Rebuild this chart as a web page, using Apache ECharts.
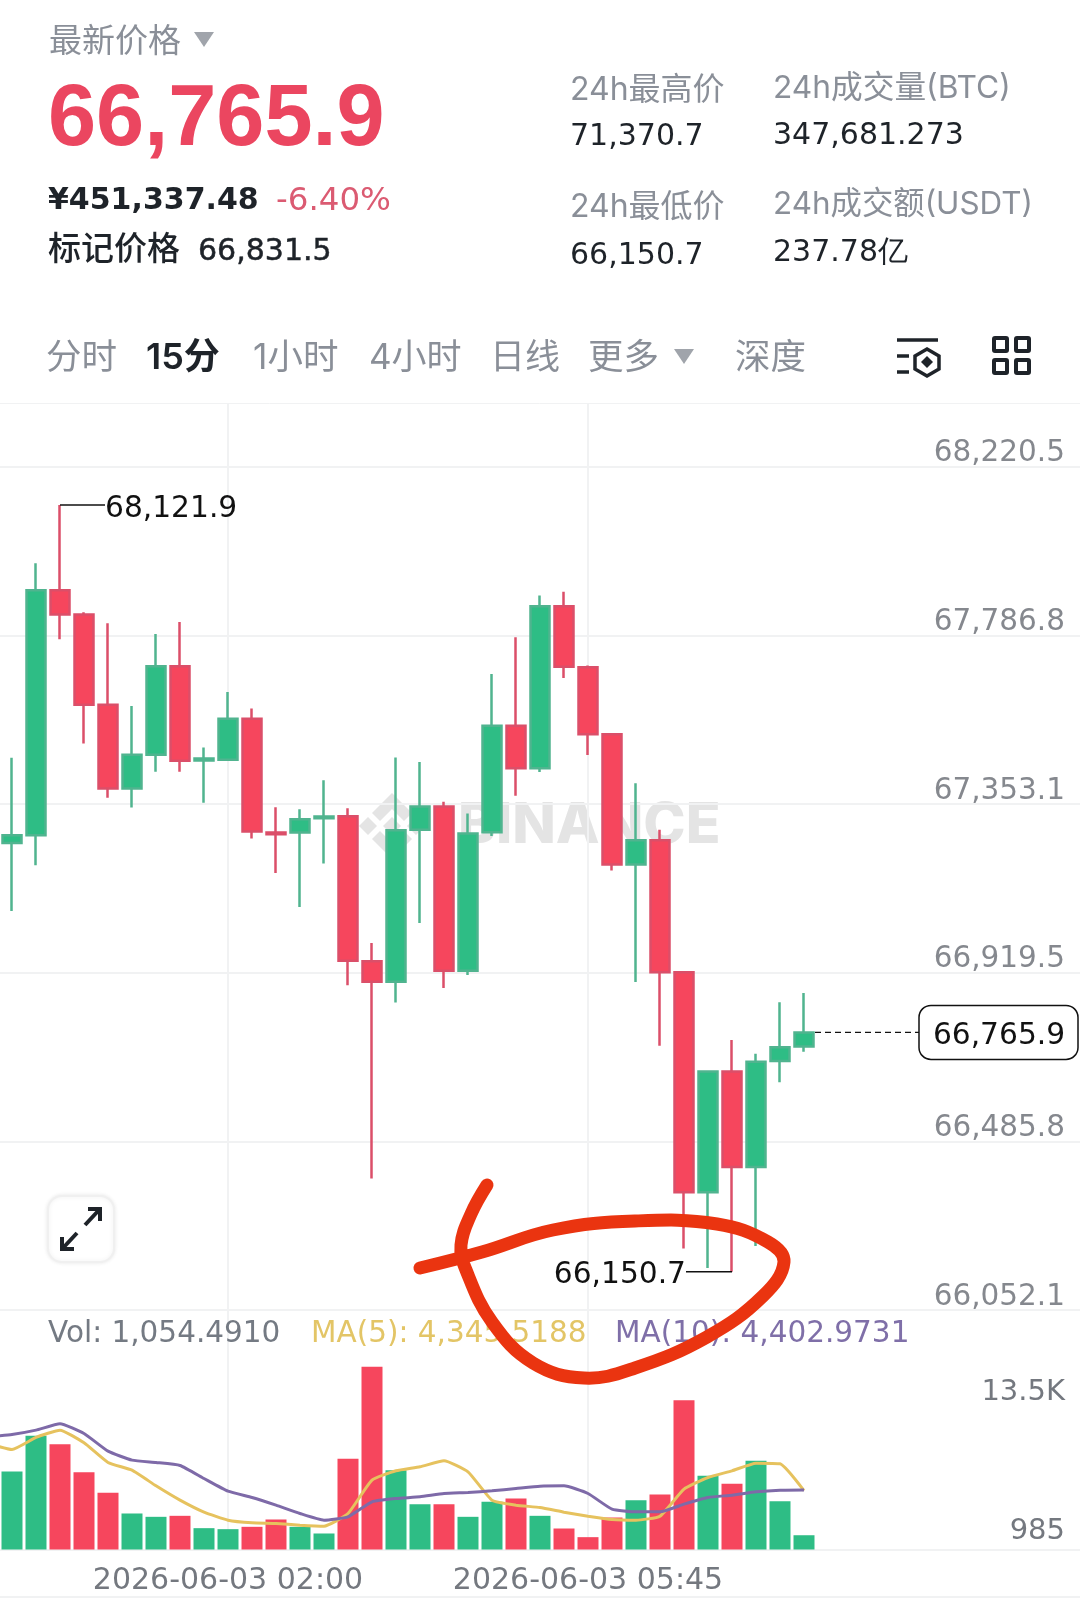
<!DOCTYPE html>
<html><head><meta charset="utf-8">
<style>html,body{margin:0;padding:0;background:#fff}#c{width:1080px;height:1607px}</style>
<script src="https://cdn.jsdelivr.net/npm/echarts@6/dist/echarts.min.js"></script>
</head><body><div id="c"></div>
<script>
const categories=['06-02 23:30','06-02 23:45','06-03 00:00','06-03 00:15','06-03 00:30','06-03 00:45','06-03 01:00','06-03 01:15','06-03 01:30','06-03 01:45','06-03 02:00','06-03 02:15','06-03 02:30','06-03 02:45','06-03 03:00','06-03 03:15','06-03 03:30','06-03 03:45','06-03 04:00','06-03 04:15','06-03 04:30','06-03 04:45','06-03 05:00','06-03 05:15','06-03 05:30','06-03 05:45','06-03 06:00','06-03 06:15','06-03 06:30','06-03 06:45','06-03 07:00','06-03 07:15','06-03 07:30','06-03 07:45','06-03 08:00','06-03 08:15','06-03 08:30','06-03 08:45','06-03 09:00','06-03 09:15','06-03 09:30','06-03 09:45','06-03 10:00','06-03 10:15','06-03 10:30','06-03 10:45'];
const timeLabels=['06-03 02:00','06-03 05:45'];
const opens=[67253.1,67272.9,67902.6,67840,67608.3,67393,67479.6,67707,67465,67466.8,67572.3,67279.8,67279.8,67316.6,67321.8,66948.5,66896.2,67286.6,67346.6,66924.5,67280.6,67554.3,67445.3,67861.6,67704.5,67532.6,67197.3,67259.6,66920.6,66354.8,66665.1,66419.6,66692.5,66729.9];
const closes=[67272.9,67902.6,67840,67608.3,67393,67479.6,67707,67464.2,67470.2,67572.3,67282.3,67275.4,67314,67320.9,66950.2,66896.2,67285.8,67346.6,66924.5,67277.1,67554.3,67445.3,67861.6,67705.8,67532.6,67197.3,67259.6,66920.6,66354.8,66665.1,66419.6,66690.1,66727.4,66765.9];
const lows=[67078.1,67195.6,67776.5,67508.8,67369,67344.1,67435.9,67435.9,67356.1,67466,67264.3,67175.9,67088.4,67199.9,66886.8,66390,66843,67047.2,66879.9,66913.4,67271.1,67374.1,67435.3,67677.1,67479,67182.3,66895.7,66731.2,66210.2,66160.4,66150.7,66216.5,66637.7,66716.2];
const highs=[67471.9,67972.1,68121.9,67846,67817.7,67604.9,67790.2,67821.1,67498.5,67640.9,67598.9,67344.9,67339.8,67414.4,67342.4,66995.7,67472.8,67460.8,67358.7,67328.6,67687.3,67781.7,67889,67899,67709.5,67534,67406.7,67287,66920.6,66665.1,66746.1,66711.2,66843.3,66867];
const volumes=[5766,8402,7786,5716,4189,2661,2415,2489,1577,1503,1676,2218,1676,1183,6702,13500,5864,3351,3351,2415,3524,3770,2489,1552,912,2365,3647,4066,11039,5445,4854,6554,3573,1054.49];
const ma5=[7836,7392,8279,8821,7885,6431,5864,4706,3647,2760,2168,1971,1922,1799,1725,2661,5125,5815,6111,6554,5741,3647,3277,3105,2760,2464,2218,2168,2464,4460,5322,5815,6382,6332,4345.52];
const ma10=[8328,8501,8821,9289,8575,7269,6604,6431,6209,5248,4312,3844,3277,2661,2168,2415,3524,3770,3893,4140,4213,4337,4509,4682,4706,4140,2981,2784,2784,3351,3844,4016,4263,4386,4402.97];
const priceTicks=[66052.1,66485.8,66919.5,67353.1,67786.8,68220.5];
const volumeTicks=[985,13500];
const highMark=[3,68121.9], lowMark=[31,66150.7], lastMark=[34,66765.9];

const GREEN='#2EBD85',RED='#F6465D',GREY='#8A8F98',LINE='#F1F2F3',INK='#1E2329';
const DIGIT="'DejaVu Sans',sans-serif", LATIN="Inter,'Noto Sans CJK SC',sans-serif", CJK="'Noto Sans CJK SC',Inter,sans-serif";
const fmt=v=>v.toLocaleString('en-US',{minimumFractionDigits:1,maximumFractionDigits:1});
const fmtVol=v=>v>=1000?(v/1000)+'K':String(v);
const isUp=i=>closes[i]>=opens[i];
const candleData=[['-','-','-','-']].concat(opens.map((o,i)=>[o,closes[i],lows[i],highs[i]]));
const volData=[{value:'-'}].concat(volumes.map((v,i)=>({value:v,itemStyle:{color:isUp(i)?GREEN:RED}})));

const chart=echarts.init(document.getElementById('c'),null,{width:1080,height:1607});
const T=(text,x,y,font,fill,extra)=>({type:'text',z:50,silent:true,style:Object.assign({text,x,y,fill,font,verticalAlign:'middle'},extra||{})});
const tri=(x,y,s,c)=>({type:'polygon',z:50,silent:true,shape:{points:[[x-s,y-s*.7],[x+s,y-s*.7],[x,y+s*.8]]},style:{fill:c}});
const iconRect=(x,y)=>({type:'rect',z:50,shape:{x,y,width:13,height:13,r:1},style:{fill:'none',stroke:INK,lineWidth:4}});
const iconLine=(x1,y1,x2,y2)=>({type:'line',z:50,shape:{x1,y1,x2,y2},style:{stroke:INK,lineWidth:3.5}});
const wm=pts=>({type:'polygon',z:0,silent:true,shape:{points:pts.map(p=>[392+p[0],826+p[1]])},style:{fill:'#E4E4E4'}});
const arrow=pts=>({type:'polyline',z:51,silent:true,shape:{points:pts},style:{stroke:INK,fill:'none',lineWidth:4}});
const medium={stroke:INK,lineWidth:0.5};
const graphics=[
 T('最新价格',49,39,`33px ${CJK}`,GREY),
 tri(204,39,10,'#A0A4AB'),
 T('66,765.9',48,121,`700 86.5px 'Liberation Sans',sans-serif`,'#EB4660'),
 T('¥451,337.48',48,201,`700 30px ${DIGIT}`,INK),
 T('-6.40%',276,202,`32.5px ${DIGIT}`,'#DB5B72'),
 T('标记价格',48,247,`500 33px ${CJK}`,INK),
 T('66,831.5',198,252,`30px ${DIGIT}`,INK,medium),
 T('24h最高价',570,90,`32px ${LATIN}`,GREY),T('71,370.7',570,137,`30px ${DIGIT}`,INK),
 T('24h成交量(BTC)',773,88,`31.7px ${LATIN}`,GREY),T('347,681.273',773,136,`30px ${DIGIT}`,INK),
 T('24h最低价',570,207,`32px ${LATIN}`,GREY),T('66,150.7',570,256,`30px ${DIGIT}`,INK),
 T('24h成交额(USDT)',773,205,`31.4px ${LATIN}`,GREY),T('237.78亿',773,253,`30px ${DIGIT}`,INK),
 T('分时',46,358,`35.5px ${LATIN}`,GREY),T('15分',146,358,`600 36px ${LATIN}`,INK),
 T('1小时',253,358,`35.5px ${LATIN}`,GREY),T('4小时',369,358,`35px ${LATIN}`,GREY),T('日线',490,358,`35px ${LATIN}`,GREY),T('更多',588,358,`35.5px ${LATIN}`,GREY),
 tri(684,356,10,'#A0A4AB'),T('深度',735,358,`35.5px ${LATIN}`,GREY),
 {type:'group',z:50,silent:true,children:[
  iconRect(994,338),iconRect(1016,338),iconRect(994,360),iconRect(1016,360),
  iconLine(897,340,938,340),iconLine(897,356,909,356),iconLine(897,372,909,372),
  {type:'polygon',z:50,shape:{points:[[927,349],[939,356],[939,369],[927,376],[915,369],[915,356]]},style:{fill:'none',stroke:INK,lineWidth:3.5}},
  {type:'polygon',z:50,shape:{points:[[927,356],[933,362],[927,368],[921,362]]},style:{fill:INK}}
 ]},
 // watermark
 {type:'text',z:0,silent:true,style:{text:'BINANCE',x:458,y:826,fill:'#E4E4E4',font:`800 57px ${LATIN}`,verticalAlign:'middle'}},
 wm([[0,-33],[20,-13],[12,-5],[0,-17],[-12,-5],[-20,-13]]),
 wm([[0,33],[20,13],[12,5],[0,17],[-12,5],[-20,13]]),
 wm([[0,-9],[9,0],[0,9],[-9,0]]),wm([[-33,0],[-24,-9],[-15,0],[-24,9]]),wm([[33,0],[24,-9],[15,0],[24,9]]),
 // expand button
 {type:'rect',z:50,silent:true,shape:{x:48,y:1196,width:66,height:66,r:14},style:{fill:'#fff',stroke:'#F0F0F0',lineWidth:2,shadowBlur:4,shadowColor:'rgba(0,0,0,.08)'}},
 arrow([[63,1248],[77,1233]]),arrow([[62,1237],[62,1249],[74,1249]]),
 arrow([[85,1225],[99,1210]]),arrow([[88,1209],[100,1209],[100,1221]]),
 // bottom rule
 {type:'line',z:1,silent:true,shape:{x1:0,y1:1597,x2:1080,y2:1597},style:{stroke:LINE,lineWidth:2}},
 // indicator legend
 T('Vol: 1,054.4910',48,1334,`29.5px ${DIGIT}`,'#747A83'),
 T('MA(5): 4,345.5188',311,1334,`29.5px ${DIGIT}`,'#E3C566'),
 T('MA(10): 4,402.9731',615,1334,`29.5px ${DIGIT}`,'#7F6FA8'),
 // hand-drawn circle
 {type:'polyline',z:100,silent:true,shape:{smooth:0.4,points:[[420,1268],[482,1252],[553,1230],[635,1221],[717,1224],[768,1242],[784,1262],[763,1296],[707,1337],[635,1368],[584,1378],[533,1363],[492,1322],[466,1270],[461,1245],[471,1214],[487,1185]]},style:{fill:'none',stroke:'#EA3410',lineWidth:13,lineCap:'round',lineJoin:'round'}}
];

const xSplit={show:true,alignWithLabel:true,interval:(i,v)=>timeLabels.includes(v),lineStyle:{color:LINE,width:2}};
const option={
 animation:false,backgroundColor:'#fff',
 graphic:{elements:graphics},
 grid:[{left:-24,width:1104,top:403,height:907,outerBoundsMode:'none'},{left:-24,width:1104,top:1310,height:239.5,outerBoundsMode:'none'}],
 xAxis:[
  {type:'category',gridIndex:0,position:'top',data:categories,axisTick:{show:false},axisLabel:{show:false},axisLine:{lineStyle:{color:LINE,width:1}},splitLine:xSplit},
  {type:'category',gridIndex:1,data:categories,axisTick:{show:false},axisLine:{lineStyle:{color:LINE,width:2}},
   axisLabel:{interval:(i,v)=>timeLabels.includes(v),formatter:v=>'2026-'+v,color:'#74787F',fontFamily:'DejaVu Sans',fontSize:30,margin:17},splitLine:xSplit}
 ],
 yAxis:[
  {type:'value',gridIndex:0,position:'right',min:66052.1,max:68384.1,axisLine:{show:false},
   axisTick:{show:false,customValues:priceTicks},
   axisLabel:{customValues:priceTicks,inside:true,margin:15,verticalAlign:'bottom',lineHeight:26,formatter:fmt,color:'#85888E',fontFamily:'DejaVu Sans',fontSize:29.5,showMaxLabel:true,showMinLabel:true},
   splitLine:{show:true,lineStyle:{color:LINE,width:2}}},
  {type:'value',gridIndex:1,position:'right',min:0,max:17700,axisLine:{show:false},axisTick:{show:false},axisLabel:{show:false},splitLine:{show:false}},
  {type:'value',gridIndex:1,position:'right',min:671,max:22154,axisLine:{show:false},axisTick:{show:false,customValues:volumeTicks},
   axisLabel:{customValues:volumeTicks,inside:true,margin:15,verticalAlign:'bottom',formatter:fmtVol,color:'#74787F',fontFamily:'DejaVu Sans',fontSize:29},splitLine:{show:false}}
 ],
 series:[
  {type:'candlestick',xAxisIndex:0,yAxisIndex:0,data:candleData,barWidth:20,z:5,
   itemStyle:{color:GREEN,color0:RED,borderColor:'#50B48F',borderColor0:'#DB4F69',borderWidth:2.5}},
  {type:'bar',xAxisIndex:1,yAxisIndex:1,data:volData,barWidth:21,z:3},
  {type:'line',xAxisIndex:1,yAxisIndex:1,data:ma5,symbol:'none',smooth:0.15,z:4,lineStyle:{color:'#E6C25E',width:3}},
  {type:'line',xAxisIndex:1,yAxisIndex:1,data:ma10,symbol:'none',smooth:0.15,z:4,lineStyle:{color:'#7E6AA8',width:3}},
  {type:'custom',xAxisIndex:0,yAxisIndex:0,z:8,clip:false,data:[highMark,lowMark,lastMark].map((m,i)=>[m[0],m[1],i]),
   renderItem:(params,api)=>{
    const p=api.coord([api.value(0),api.value(1)]),kind=api.value(2),val=fmt(api.value(1));
    const font=`29.7px ${DIGIT}`;
    if(kind===0) return {type:'group',children:[
      {type:'line',shape:{x1:p[0],y1:p[1],x2:p[0]+45,y2:p[1]},style:{stroke:'#111',lineWidth:1.5}},
      {type:'text',style:{text:val,x:p[0]+45,y:p[1]+4,font,fill:'#111',textAlign:'left',verticalAlign:'middle'}}]};
    if(kind===1) return {type:'group',children:[
      {type:'line',shape:{x1:p[0],y1:p[1],x2:p[0]-46,y2:p[1]},style:{stroke:'#111',lineWidth:1.5}},
      {type:'text',style:{text:val,x:p[0]-46,y:p[1]+4,font,fill:'#111',textAlign:'right',verticalAlign:'middle'}}]};
    return {type:'group',children:[
      {type:'line',shape:{x1:p[0]+11,y1:p[1],x2:919,y2:p[1]},style:{stroke:'#111',lineWidth:1.2,lineDash:[6,4]}},
      {type:'rect',shape:{x:919,y:p[1]-27,width:159,height:54,r:12},style:{fill:'#fff',stroke:'#111',lineWidth:1.5}},
      {type:'text',style:{text:val,x:999,y:p[1]+4,font,fill:'#111',textAlign:'center',verticalAlign:'middle'}}]};
   }}
 ]
};
chart.setOption(option);
</script></body></html>
